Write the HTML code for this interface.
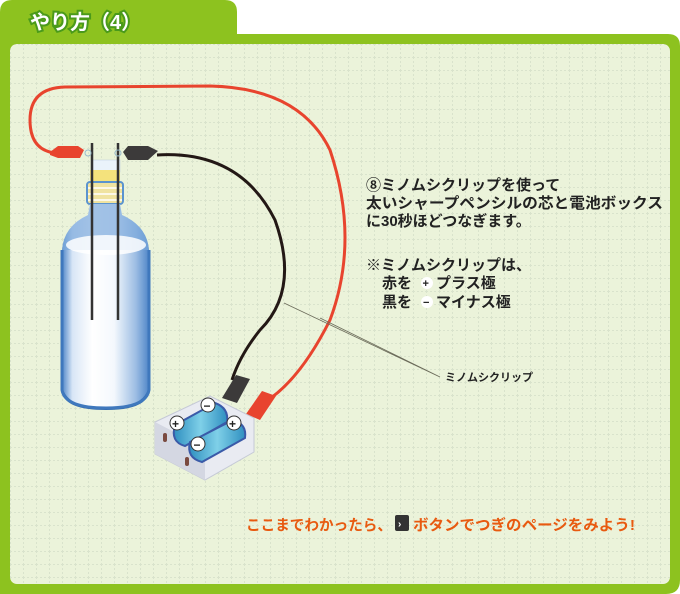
<!DOCTYPE html>
<html><head><meta charset="utf-8"><style>
html,body{margin:0;padding:0;background:#fff}
svg{display:block}
text{font-family:"Liberation Sans","Noto Sans CJK JP",sans-serif;font-weight:bold}
</style></head><body>
<svg width="680" height="594" viewBox="0 0 680 594" xmlns="http://www.w3.org/2000/svg">
<defs>
<pattern id="g" width="13" height="13" patternUnits="userSpaceOnUse" x="10" y="44">
<rect width="13" height="13" fill="#ebf3da"/>
<path d="M0 0.5H13M0.5 0V13" stroke="#d9e3cc" stroke-width="1" stroke-dasharray="2 2" fill="none"/>
</pattern>
<linearGradient id="bt" x1="0" x2="1">
<stop offset="0" stop-color="#4f86c8"/><stop offset="0.12" stop-color="#d8e6f6"/><stop offset="0.35" stop-color="#fff"/><stop offset="0.6" stop-color="#f4f8fd"/><stop offset="0.85" stop-color="#9cbde3"/><stop offset="1" stop-color="#4f86c8"/>
</linearGradient>
<linearGradient id="bat" x1="0" x2="1">
<stop offset="0" stop-color="#2f8fc0"/><stop offset="0.5" stop-color="#7fd0e8"/><stop offset="1" stop-color="#2f8fc0"/>
</linearGradient>
</defs>
<path d="M0 12Q0 0 12 0H225Q237 0 237 12V34H668Q680 34 680 46V580Q680 594 666 594H0Z" fill="#8dc21f"/>
<rect x="10" y="44" width="660" height="540" rx="7" fill="url(#g)"/>
<text x="30" y="29" font-size="20" fill="#fff" stroke="#4a9a1a" stroke-width="4" paint-order="stroke">やり方（4）</text>

<!-- wires -->
<path d="M55 153Q30 150 30 120Q30 88 65 87L210 86Q300 88 330 150Q360 240 330 320Q300 380 265 402" stroke="#e8442e" stroke-width="3" fill="none"/>
<path d="M157 155Q240 150 275 220Q300 290 260 330Q240 355 232 380" stroke="#231815" stroke-width="3" fill="none"/>
<!-- leader lines -->
<path d="M284 303L440 377M320 318L440 377" stroke="#6b6b5a" stroke-width="0.8" fill="none"/>
<text x="445" y="381" font-size="11" fill="#222">ミノムシクリップ</text>

<!-- bottle -->
<rect x="92" y="160" width="28" height="12" fill="#eaf3fb" stroke="#bcd" stroke-width="0.5"/>
<rect x="90" y="170" width="30" height="12" fill="#f4e27c"/>
<rect x="87" y="182" width="36" height="22" rx="3" fill="#f0e3a0" stroke="#5b94cf" stroke-width="2"/>
<path d="M88 188H122M88 194H122M88 200H122" stroke="#fff" stroke-width="1.5"/>
<path d="M90 204L88 215Q64 226 62 250V390Q65 408 106 408Q146 408 149 390V250Q147 226 122 215L120 204Z" fill="url(#bt)"/>
<path d="M90 204L88 215Q64 226 62 250L149 250Q147 226 122 215L120 204Z" fill="#7aa8dc" opacity="0.7"/>
<ellipse cx="106" cy="245" rx="40" ry="10" fill="#fff" opacity="0.85"/>
<path d="M62 385Q65 408 106 408Q146 408 149 385V392Q146 410 106 410Q65 410 62 392Z" fill="#2d65a8"/>
<path d="M62 250V390Q65 408 106 408Q146 408 149 390V250" fill="none" stroke="#3f78bd" stroke-width="3"/>
<path d="M92 143V320M118 143V320" stroke="#333" stroke-width="2.5"/>
<!-- clips -->
<path d="M50 152L58 146H78L84 150L80 158H58L50 155Z" fill="#e8442e"/>
<circle cx="88" cy="153" r="3" fill="none" stroke="#9bc" stroke-width="1"/>
<path d="M123 152L128 146H148L158 151L148 160H128Z" fill="#3c3a3a"/>
<circle cx="118" cy="153" r="3" fill="none" stroke="#9bc" stroke-width="1"/>

<!-- battery box -->
<path d="M222 398L236 375L250 379L237 403Z" fill="#3c3a3a"/>
<path d="M246 414L262 391L276 396L260 420Z" fill="#e8442e"/>
<path d="M155 422L210 396L254 418L254 452L205 480L155 454Z" fill="#e9ebf2" stroke="#c5c9d6"/>
<path d="M155 422L205 448V480L155 454Z" fill="#d4d7e2"/>
<path d="M175 425L215 403Q229 408 227 422L185 446Q170 442 175 425Z" fill="url(#bat)" stroke="#3a5aa8" stroke-width="2"/>
<path d="M190 442L233 420Q247 424 245 438L202 462Q186 458 190 442Z" fill="url(#bat)" stroke="#3a5aa8" stroke-width="2"/>
<circle cx="208" cy="405" r="7" fill="#fff" stroke="#333"/><text x="203.5" y="410" font-size="12" fill="#222">−</text>
<circle cx="177" cy="423" r="7" fill="#fff" stroke="#333"/><text x="172" y="428" font-size="12" fill="#222">+</text>
<circle cx="234" cy="423" r="7" fill="#fff" stroke="#333"/><text x="229" y="428" font-size="12" fill="#222">+</text>
<circle cx="198" cy="444" r="7" fill="#fff" stroke="#333"/><text x="193.5" y="449" font-size="12" fill="#222">−</text>
<rect x="163" y="433" width="4" height="9" rx="2" fill="#7a4a40"/>
<rect x="185" y="457" width="4" height="9" rx="2" fill="#7a4a40"/>

<!-- text -->
<g font-size="15" fill="#222">
<text x="366" y="190">⑧ミノムシクリップを使って</text>
<text x="366" y="208" textLength="297" lengthAdjust="spacingAndGlyphs">太いシャープペンシルの芯と電池ボックス</text>
<text x="366" y="226">に30秒ほどつなぎます。</text>
<text x="366" y="270">※ミノムシクリップは、</text>
<text x="382" y="288">赤を</text>
<circle cx="427" cy="283" r="6" fill="#fff"/><text x="422.5" y="287" font-size="11">+</text>
<text x="436" y="288">プラス極</text>
<text x="382" y="307">黒を</text>
<circle cx="427" cy="302" r="6" fill="#fff"/><text x="423" y="306" font-size="11">−</text>
<text x="436" y="307">マイナス極</text>
</g>
<g font-size="15" fill="#e85a10">
<text x="246" y="530" textLength="146" lengthAdjust="spacingAndGlyphs">ここまでわかったら、</text>
<rect x="395" y="515" width="14" height="16" rx="2" fill="#333"/>
<text x="398" y="527" font-size="10" fill="#fff">›</text>
<text x="413" y="530" textLength="222" lengthAdjust="spacingAndGlyphs">ボタンでつぎのページをみよう!</text>
</g>
</svg>
</body></html>
